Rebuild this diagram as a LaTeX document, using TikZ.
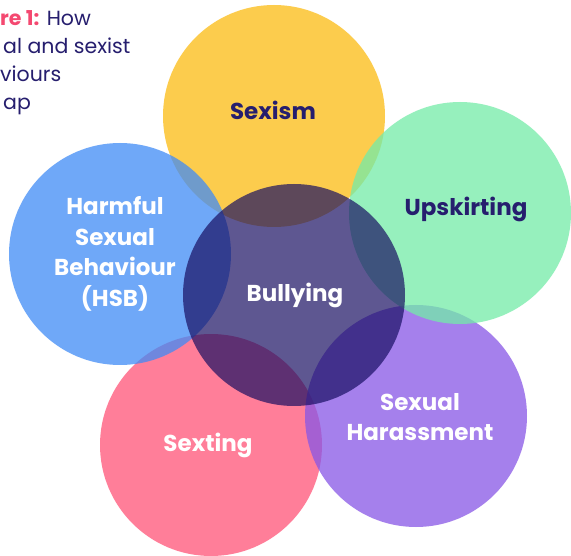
\documentclass[tikz,border=0pt]{standalone}
\usepackage{fontspec}
\setmainfont{Poppins}
\begin{document}
% colours of the circle fills (drawn at 75% opacity)
\definecolor{sexismfill}{RGB}{252,187,18}
\definecolor{upskirtfill}{RGB}{115,235,168}
\definecolor{hsbfill}{RGB}{64,139,246}
\definecolor{sextingfill}{RGB}{255,84,119}
\definecolor{harassfill}{RGB}{136,86,230}
\definecolor{bullyfill}{RGB}{23,13,97}
\definecolor{inkblue}{RGB}{38,30,110}
\definecolor{titlepink}{RGB}{244,72,112}
\begin{tikzpicture}[x=1pt,y=-1pt,
  bubble/.style={circle,inner sep=0pt,minimum size=222pt,draw=none,fill opacity=0.75},
  tag/.style={font=\fontsize{23}{30.7}\selectfont\bfseries,align=center,inner sep=0pt},
  lighttag/.style={tag,text=white},
  darktag/.style={tag,text=inkblue},
  titleline/.style={anchor=base west,inner sep=0pt,font=\fontsize{20.5}{28}\selectfont,text=inkblue}]
\useasboundingbox[fill=white] (0,0) rectangle (571,556);

% overlapping circles, back to front
\node[bubble,fill=sexismfill]  (sexism)  at (274,116) {};
\node[bubble,fill=sextingfill] (sexting) at (211,445) {};
\node[bubble,fill=hsbfill]     (hsb)     at (120,254) {};
\node[bubble,fill=harassfill]  (harass)  at (416,416) {};
\node[bubble,fill=upskirtfill] (upskirt) at (460,213) {};
\node[bubble,fill=bullyfill,fill opacity=0.69] (bully) at (294,295) {};

% labels
\node[darktag]  (sexismtxt)  at (273,110) {Sexism};
\node[darktag]  (upskirttxt) at (466,209) {Upskirting};
\node[lighttag] (hsbtxt)     at (115,254) {Harmful\\Sexual\\Behaviour\\(HSB)};
\node[lighttag] (bullytxt)   at (295,295) {Bullying};
\node[lighttag] (sextingtxt) at (208,445) {Sexting};
\node[lighttag] (harasstxt)  at (420,417) {Sexual\\Harassment};

% caption in the upper left corner
\node[titleline] (cap1) at (0,26)  {\textcolor{titlepink}{\bfseries re 1:} How};
\node[titleline] (cap2) at (3,54)  {al and sexist};
\node[titleline] (cap3) at (0,82)  {viours};
\node[titleline] (cap4) at (3,110) {ap};
\end{tikzpicture}
\end{document}
